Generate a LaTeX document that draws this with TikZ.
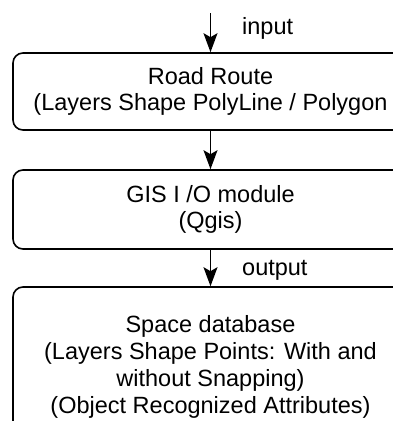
\documentclass[tikz,border=0pt]{standalone}
\usepackage{fontspec}
\setmainfont{Liberation Sans}
\usetikzlibrary{arrows.meta}
\begin{document}
\begin{tikzpicture}[x=1pt,y=-1pt,
  box/.style={draw=black, line width=1.6pt, rounded corners=10pt,
    minimum width=395pt, align=center, inner sep=0pt,
    font=\fontsize{23.5}{26.8}\selectfont},
  arr/.style={line width=1.6pt, -{Stealth[length=19pt,width=14pt,inset=4pt]}},
  lbl/.style={anchor=west, inner sep=0pt, font=\fontsize{23.5}{26.8}\selectfont}]
\useasboundingbox (0,0) rectangle (393,421);
\node[box, minimum height=77pt] (b1) at (210.5,91.5) {Road Route\\(Layers Shape PolyLine / Polygon};
\node[box, minimum height=79pt] (b2) at (210.5,209.5) {GIS I /O module\\(Qgis)};
\node[box, minimum height=160pt] (b3) at (210.5,367) {Space database\\(Layers Shape Points: With and\\without Snapping)\\(Object Recognized Attributes)};
\coordinate (in) at (210.5,13);
\draw[arr] (in) -- (b1.north);
\draw[arr] (b1.south) -- (b2.north);
\draw[arr] (b2.south) -- (b3.north);
\node[lbl] (tin) at (242,28) {input};
\node[lbl] (tout) at (242,270) {output};
\end{tikzpicture}
\end{document}
